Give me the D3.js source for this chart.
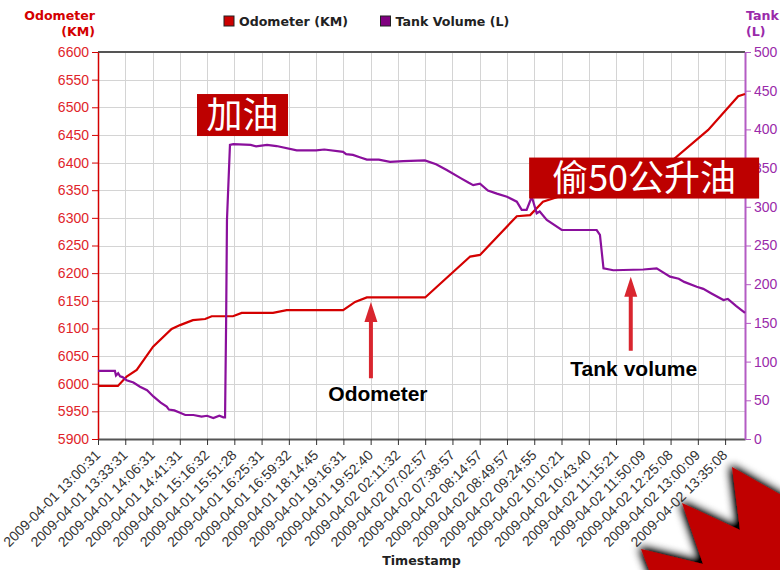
<!DOCTYPE html>
<html>
<head>
<meta charset="utf-8">
<script src="https://cdn.jsdelivr.net/npm/d3@7"></script>
<style>
  body { margin: 0; background: #fff; }
  svg { display: block; }
</style>
</head>
<body>
<svg id="chart"></svg>
<script>
// tick labels on the time axis
const timeLabels = [
  '2009-04-01 13:00:31', '2009-04-01 13:33:31', '2009-04-01 14:06:31', '2009-04-01 14:41:31',
  '2009-04-01 15:16:32', '2009-04-01 15:51:28', '2009-04-01 16:25:31', '2009-04-01 16:59:32',
  '2009-04-01 18:14:45', '2009-04-01 19:16:31', '2009-04-01 19:52:40', '2009-04-02 02:11:32',
  '2009-04-02 07:02:57', '2009-04-02 07:38:57', '2009-04-02 08:14:57', '2009-04-02 08:49:57',
  '2009-04-02 09:24:55', '2009-04-02 10:10:21', '2009-04-02 10:43:40', '2009-04-02 11:15:21',
  '2009-04-02 11:50:09', '2009-04-02 12:25:08', '2009-04-02 13:00:09', '2009-04-02 13:35:08'
]

// position along the time axis (in label steps) and odometer reading
const odoPos = [0, 0.73, 1.05, 1.42, 2.02, 2.70, 3.01, 3.48, 3.93, 4.17, 4.95, 5.27, 6.42, 6.92,
  8.99, 9.43, 9.86, 12.0, 12.42, 13.65, 14.01, 15.36, 15.85, 16.32, 21.09, 22.38, 23.48, 23.73]
const odoKm = [5996, 5996, 6013, 6025, 6067, 6099, 6106, 6115, 6117, 6122, 6122, 6128, 6128, 6133,
  6133, 6148, 6156, 6156, 6175, 6230, 6233, 6303, 6305, 6329, 6405, 6459, 6520, 6524]

// position along the time axis and tank volume
const tankPos = [0, 0.62, 0.66, 0.74, 0.81, 0.9, 1.05, 1.3, 1.54, 1.8, 2.03, 2.3, 2.52, 2.6, 2.8,
  3.01, 3.2, 3.5, 3.8, 4.0, 4.23, 4.45, 4.6, 4.66, 4.70, 4.73, 4.84, 4.96, 5.6, 5.8, 6.2, 6.55,
  7.29, 8.0, 8.3, 8.99, 9.1, 9.35, 9.6, 9.86, 10.3, 10.71, 11.2, 11.99, 12.4, 12.79, 13.3, 13.6,
  13.76, 14.01, 14.3, 14.63, 15.0, 15.36, 15.54, 15.72, 15.91, 16.09, 16.2, 16.46, 17.01, 18.29,
  18.41, 18.54, 18.9, 20.0, 20.49, 20.98, 21.3, 21.5, 21.96, 22.2, 22.5, 22.94, 23.1, 23.4, 23.73]
const tankL = [88, 88, 82, 85, 81, 80, 76, 73, 67.5, 63, 55, 47, 42, 38, 37,
  34, 31, 31, 29, 30, 27, 30, 28, 28, 154, 283, 380, 381, 380, 378, 380, 378.5,
  373, 373, 374, 371, 368, 367, 364, 361, 361, 358, 359, 360, 355, 347.5, 337, 331,
  328, 330, 321, 317, 313, 306.6, 296, 296, 313, 291.6, 294, 283, 270, 270,
  263.6, 220.5, 218, 219, 220.5, 209.7, 207, 203, 196.8, 194, 188, 179.6, 181, 172, 163]

const kmTicks = d3.range(5900, 6601, 50)
const litreTicks = d3.range(0, 501, 50)

const W = 780, H = 570
const red = '#d40000', purple = '#8a0f9c'

const svg = d3.select('#chart').attr('width', W).attr('height', H)

const x = d3.scaleLinear().domain([0, 23.73]).range([98, 745])
const yKm = d3.scaleLinear().domain([5900, 6600]).range([439, 52])
const yL = d3.scaleLinear().domain([0, 500]).range([439, 52])

// grid
const grid = svg.append('g').attr('stroke', '#d4d4d4').attr('stroke-width', 1)
grid.selectAll('.h').data(kmTicks).enter().append('line')
  .attr('x1', x(0)).attr('x2', x.range()[1])
  .attr('y1', d => Math.round(yKm(d)) + 0.5).attr('y2', d => Math.round(yKm(d)) + 0.5)
grid.selectAll('.v').data(d3.range(timeLabels.length)).enter().append('line')
  .attr('y1', yKm(6600)).attr('y2', yKm(5900))
  .attr('x1', d => Math.round(x(d)) + 0.5).attr('x2', d => Math.round(x(d)) + 0.5)

// top frame line
svg.append('line').attr('x1', x(0)).attr('x2', x.range()[1])
  .attr('y1', yKm(6600)).attr('y2', yKm(6600))
  .attr('stroke', '#555').attr('stroke-width', 2)

// bottom axis
const xAxis = svg.append('g').attr('transform', `translate(0,${yKm(5900)})`)
  .call(d3.axisBottom(x).tickValues(d3.range(timeLabels.length))
    .tickFormat(i => timeLabels[i]).tickSize(6).tickSizeOuter(0))
xAxis.select('.domain').attr('stroke', '#555').attr('stroke-width', 2)
xAxis.selectAll('.tick line').attr('stroke', '#333')
xAxis.selectAll('text')
  .attr('font-family', 'Liberation Sans, Arial, sans-serif').attr('font-size', 14)
  .attr('fill', '#333').attr('text-anchor', 'end')
  .attr('x', -10).attr('y', 9).attr('dy', '0.35em')
  .attr('transform', 'rotate(-45)')

// left axis
const leftAxis = svg.append('g').attr('transform', `translate(${x(0)},0)`)
  .call(d3.axisLeft(yKm).tickValues(kmTicks).tickFormat(d3.format('d'))
    .tickSize(6).tickPadding(3).tickSizeOuter(0))
leftAxis.select('.domain').attr('stroke', red).attr('stroke-width', 1.5)
leftAxis.selectAll('.tick line').attr('stroke', red)
leftAxis.selectAll('text').attr('fill', '#e0242a')
  .attr('font-family', 'Liberation Sans, Arial, sans-serif').attr('font-size', 14)

// right axis
const rightAxis = svg.append('g').attr('transform', `translate(${x.range()[1]},0)`)
  .call(d3.axisRight(yL).tickValues(litreTicks).tickSize(6).tickPadding(3).tickSizeOuter(0))
rightAxis.select('.domain').attr('stroke', '#b45cc4').attr('stroke-width', 2)
rightAxis.selectAll('.tick line').attr('stroke', '#b45cc4')
rightAxis.selectAll('text').attr('fill', '#9a2aaa')
  .attr('font-family', 'Liberation Sans, Arial, sans-serif').attr('font-size', 14)

// axis titles
const boldFont = 'DejaVu Sans, Verdana, sans-serif'
const lt = svg.append('text').attr('text-anchor', 'end').attr('fill', red)
  .attr('font-family', boldFont).attr('font-weight', 'bold').attr('font-size', 12.6)
lt.append('tspan').attr('x', 95).attr('y', 20).text('Odometer')
lt.append('tspan').attr('x', 95).attr('y', 36).text('(KM)')
const rt = svg.append('text').attr('fill', '#9a2aaa')
  .attr('font-family', boldFont).attr('font-weight', 'bold').attr('font-size', 12.6)
rt.append('tspan').attr('x', 746).attr('y', 20).attr('textLength', 33).text('Tank')
rt.append('tspan').attr('x', 746).attr('y', 36).text('(L)')
svg.append('text').attr('x', (x.range()[0] + x.range()[1]) / 2).attr('y', 565)
  .attr('text-anchor', 'middle').attr('fill', '#222')
  .attr('font-family', boldFont).attr('font-weight', 'bold').attr('font-size', 12.6)
  .text('Timestamp')

// legend
const legendItems = [
  { name: 'Odometer (KM)', color: '#cc0000', lx: 224 },
  { name: 'Tank Volume (L)', color: '#800080', lx: 380.5 }
]
const lg = svg.selectAll('.legend').data(legendItems).enter().append('g')
  .attr('transform', d => `translate(${d.lx},16)`)
lg.append('rect').attr('width', 10).attr('height', 10)
  .attr('fill', d => d.color).attr('stroke', '#222').attr('stroke-width', 1)
lg.append('text').attr('x', 15).attr('y', 9.5).attr('fill', '#222')
  .attr('font-family', boldFont).attr('font-weight', 'bold').attr('font-size', 12.6)
  .text(d => d.name)

// series
const odoLine = d3.line().x((d, i) => x(odoPos[i])).y(d => yKm(d))
const tankLine = d3.line().x((d, i) => x(tankPos[i])).y(d => yL(d))

svg.append('path').datum(odoKm).attr('d', odoLine)
  .attr('fill', 'none').attr('stroke', red).attr('stroke-width', 2.2)
svg.append('path').datum(tankL).attr('d', tankLine)
  .attr('fill', 'none').attr('stroke', purple).attr('stroke-width', 2.2)

// callouts
const callouts = [
  { text: '加油', pos: 5.3, km: 6486, w: 91, h: 42 },
  { text: '偷50公升油', pos: 20.03, km: 6372, w: 230, h: 41 }
]
const cg = svg.selectAll('.callout').data(callouts).enter().append('g')
  .attr('transform', d => `translate(${x(d.pos)},${yKm(d.km)})`)
cg.append('rect').attr('x', d => -d.w / 2).attr('y', d => -d.h / 2)
  .attr('width', d => d.w).attr('height', d => d.h).attr('fill', '#bd0000')
cg.append('text').attr('text-anchor', 'middle').attr('dy', '0.36em')
  .attr('fill', '#fff').attr('font-size', 36)
  .attr('font-family', 'Noto Sans CJK SC, sans-serif')
  .text(d => d.text)

// arrows
const arrows = [
  { text: 'Odometer', pos: 10.01, top: yKm(6148), bottom: yKm(6010), textY: 401, dx: 7 },
  { text: 'Tank volume', pos: 19.54, top: yL(209.7), bottom: yL(114), textY: 376, dx: 3 }
]
arrows.forEach(a => {
  const cx = x(a.pos)
  const hb = a.top + 20
  svg.append('path')
    .attr('d', `M${cx},${a.top} L${cx + 6.5},${hb} L${cx + 2},${hb} L${cx + 2},${a.bottom} ` +
      `L${cx - 2},${a.bottom} L${cx - 2},${hb} L${cx - 6.5},${hb} Z`)
    .attr('fill', '#d9262f')
  svg.append('text').attr('x', cx + a.dx).attr('y', a.textY).attr('text-anchor', 'middle')
    .attr('font-family', 'Liberation Sans, Arial, sans-serif').attr('font-weight', 'bold')
    .attr('font-size', 21).attr('fill', '#000').text(a.text)
})

// corner decoration
const defs = svg.append('defs')
const f = defs.append('filter').attr('id', 'shadow')
  .attr('x', '-30%').attr('y', '-30%').attr('width', '160%').attr('height', '160%')
f.append('feGaussianBlur').attr('in', 'SourceAlpha').attr('stdDeviation', 5).attr('result', 'b')
f.append('feOffset').attr('in', 'b').attr('dx', -2).attr('dy', -2).attr('result', 'o')
f.append('feComponentTransfer').attr('in', 'o').attr('result', 's')
  .append('feFuncA').attr('type', 'linear').attr('slope', 1.4)
const fm = f.append('feMerge')
fm.append('feMergeNode').attr('in', 's')
fm.append('feMergeNode').attr('in', 'SourceGraphic')

svg.append('polygon')
  .attr('points', '641,549 703,564 682,503 740,530 732,467 790,500 790,580 653,580')
  .attr('fill', '#c00000').attr('filter', 'url(#shadow)')
</script>
</body>
</html>
